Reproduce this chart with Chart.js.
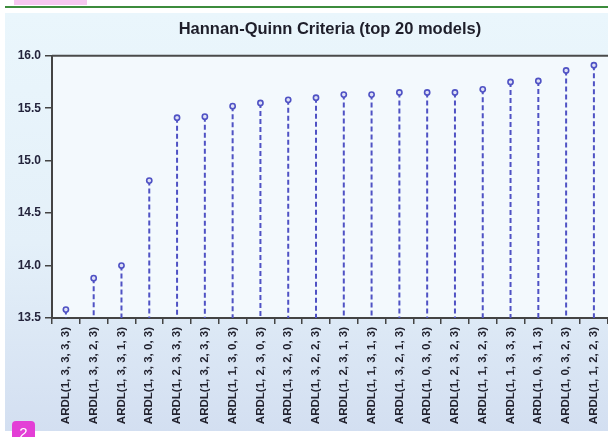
<!DOCTYPE html>
<html><head><meta charset="utf-8">
<script src="https://cdn.jsdelivr.net/npm/chart.js@4.4.0/dist/chart.umd.min.js"></script>
<style>
html,body{margin:0;padding:0;background:#fff;width:608px;height:437px;overflow:hidden;position:relative;font-family:"Liberation Sans",Arial,sans-serif}
#pink{position:absolute;left:14px;top:0;width:73px;height:5px;background:#f7c8f1}
#rule{position:absolute;left:5px;top:6px;width:603px;height:2px;background:#3c8c3c}
#wrap{position:absolute;left:5px;top:13px;width:603px;height:418px;overflow:hidden;background:linear-gradient(180deg,#eaf6fc 0%,#e4f0f9 55%,#d3dff1 100%)}
#c{display:block}
#badge{position:absolute;left:12px;top:421px;width:23px;height:20px;background:#e33fd6;border-radius:4px;color:#fff;font-size:15px;text-align:center;line-height:24px}
</style>
</head><body>
<div id="pink"></div><div id="rule"></div>
<div id="wrap"><canvas id="c" width="607" height="418"></canvas></div>
<div id="badge">2</div>
<script>
const categories = [
  "ARDL(1, 3, 3, 3, 3)","ARDL(1, 3, 3, 2, 3)","ARDL(1, 3, 3, 1, 3)","ARDL(1, 3, 3, 0, 3)",
  "ARDL(1, 2, 3, 3, 3)","ARDL(1, 3, 2, 3, 3)","ARDL(1, 1, 3, 0, 3)","ARDL(1, 2, 3, 0, 3)",
  "ARDL(1, 3, 2, 0, 3)","ARDL(1, 3, 2, 2, 3)","ARDL(1, 2, 3, 1, 3)","ARDL(1, 1, 3, 1, 3)",
  "ARDL(1, 3, 2, 1, 3)","ARDL(1, 0, 3, 0, 3)","ARDL(1, 2, 3, 2, 3)","ARDL(1, 1, 3, 2, 3)",
  "ARDL(1, 1, 3, 3, 3)","ARDL(1, 0, 3, 1, 3)","ARDL(1, 0, 3, 2, 3)","ARDL(1, 1, 2, 2, 3)"
];
const hqValues = [13.58,13.88,14.00,14.81,15.41,15.42,15.52,15.55,15.58,15.60,
                  15.63,15.63,15.65,15.65,15.65,15.68,15.75,15.76,15.86,15.91];
const yMin = 13.5, yMax = 16.0, yStep = 0.5;

const stemColor = '#4f52c4';
const fontFam = '"Liberation Sans", Arial, sans-serif';

const bgPlugin = {
  id: 'bg',
  beforeDraw(chart) {
    const {ctx, chartArea: a} = chart;
    ctx.save();
    ctx.fillStyle = '#f3f9fd';
    ctx.fillRect(a.left, a.top, chart.width - a.left, a.bottom - a.top);
    ctx.restore();
  },
  afterDraw(chart) {
    const {ctx, chartArea: a} = chart;
    ctx.save();
    ctx.strokeStyle = '#4a4a4a';
    ctx.lineWidth = 2;
    ctx.beginPath();
    ctx.moveTo(a.left, a.top);
    ctx.lineTo(chart.width, a.top);
    ctx.stroke();
    ctx.restore();
  }
};

const stemPlugin = {
  id: 'stems',
  beforeDatasetsDraw(chart) {
    const {ctx} = chart;
    const meta = chart.getDatasetMeta(0);
    const base = chart.scales.y.getPixelForValue(yMin);
    ctx.save();
    ctx.strokeStyle = stemColor;
    ctx.lineWidth = 2;
    ctx.setLineDash([5, 3]);
    meta.data.forEach(pt => {
      ctx.beginPath();
      ctx.moveTo(pt.x, pt.y);
      ctx.lineTo(pt.x, base);
      ctx.stroke();
    });
    ctx.restore();
  }
};

new Chart(document.getElementById('c'), {
  type: 'line',
  data: {
    labels: categories,
    datasets: [{
      data: hqValues,
      showLine: false,
      pointRadius: 2.6,
      pointHoverRadius: 2.6,
      pointBorderWidth: 1.6,
      pointBackgroundColor: '#dfe1f6',
      pointBorderColor: stemColor
    }]
  },
  options: {
    responsive: false,
    animation: false,
    events: [],
    layout: {padding: 0},
    plugins: {
      legend: {display: false},
      tooltip: {enabled: false},
      title: {
        display: true,
        fullSize: false,
        text: 'Hannan-Quinn Criteria (top 20 models)',
        color: '#1e1e2a',
        font: {family: fontFam, size: 16.5, weight: 'bold'},
        padding: {top: 7, bottom: 16}
      }
    },
    scales: {
      x: {
        type: 'category',
        offset: true,
        grid: {offset: true, drawOnChartArea: false, tickLength: 6, color: '#444', lineWidth: 1.5},
        border: {color: '#444', width: 2},
        ticks: {
          autoSkip: false, minRotation: 90, maxRotation: 90, padding: 3,
          color: '#22222e',
          font: {family: fontFam, size: 11.5, weight: 'bold'}
        },
        afterFit(s) { s.height = 113; }
      },
      y: {
        min: yMin, max: yMax,
        grid: {drawOnChartArea: false, tickLength: 7, color: '#444', lineWidth: 1.5},
        border: {color: '#444', width: 2},
        ticks: {
          stepSize: yStep, padding: 4, color: '#24243c',
          font: {family: fontFam, size: 12, weight: 'bold'},
          callback: v => Number(v).toFixed(1)
        },
        afterFit(s) { s.width = 47; }
      }
    }
  },
  plugins: [bgPlugin, stemPlugin]
});
</script>
</body></html>
